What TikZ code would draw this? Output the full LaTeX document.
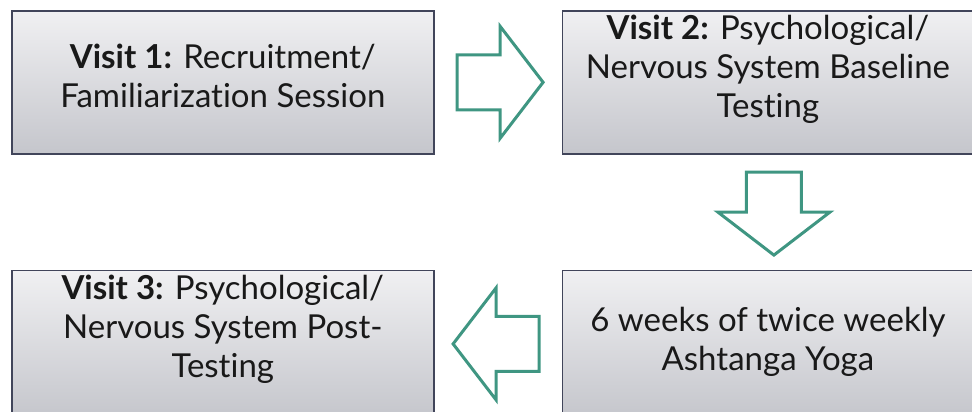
\documentclass[tikz,border=0pt]{standalone}
\usepackage{fontspec}
\setmainfont[Ligatures=NoCommon]{Lato}
\usepackage{xcolor}
\usepackage{tikz}
\usetikzlibrary{positioning,shapes.arrows,shadows}
\definecolor{boxtop}{HTML}{F0F0F2}
\definecolor{boxbot}{HTML}{C5C6CC}
\definecolor{boxline}{HTML}{41455A}
\definecolor{yogateal}{HTML}{3F9682}

\begin{document}
\begin{tikzpicture}[x=1pt, y=-1pt,
  node distance=115pt and 127pt,
  block/.style={draw=boxline, line width=1.6pt, top color=boxtop, bottom color=boxbot, minimum height=143pt, inner sep=0pt, drop shadow={shadow xshift=1.5pt, shadow yshift=-1.5pt, opacity=.25}},
  steptext/.style={align=center, font=\fontsize{33}{39}\selectfont, text=black!90, inner sep=0pt},
  bigarrow/.style={single arrow, draw=yogateal, fill=white, line width=3pt, minimum height=86pt, inner xsep=0pt, inner ysep=26pt, single arrow head extend=28.5pt, single arrow tip angle=105},
  downarrow/.style={bigarrow, shape border rotate=270, minimum height=83pt, inner xsep=26pt, inner ysep=0pt}
]
\useasboundingbox (0,0) rectangle (972,412);

% the four steps
\node[block, minimum width=422pt, anchor=north west] (v1) at (11,10) {};
\node[block, minimum width=411pt, right=of v1] (v2) {};
\node[block, minimum width=411pt, minimum height=147pt, below=of v2] (yoga) {};
\node[block, minimum width=422pt, minimum height=147pt, left=of yoga] (v3) {};

\node[steptext] (v1txt) at ([yshift=6pt]v1.center) {\textbf{Visit 1:} Recruitment/\\Familiarization Session};
\node[steptext] (v2txt) at ([yshift=13pt]v2.center) {\textbf{Visit 2:} Psychological/\\Nervous System Baseline\\Testing};
\node[steptext] (yogatxt) at ([yshift=2pt]yoga.center) {6 weeks of twice weekly\\Ashtanga Yoga};
\node[steptext] (v3txt) at ([yshift=15pt]v3.center) {\textbf{Visit 3:} Psychological/\\Nervous System Post-\\Testing};

% block arrows between steps
\node[bigarrow, right=21pt of v1, anchor=tail] (go12) {};
\node[downarrow, below=16pt of v2, anchor=tail, xshift=6pt] (go2y) {};
\node[bigarrow, shape border rotate=180, left=21pt of yoga, anchor=tail] (goy3) {};
\end{tikzpicture}
\end{document}
